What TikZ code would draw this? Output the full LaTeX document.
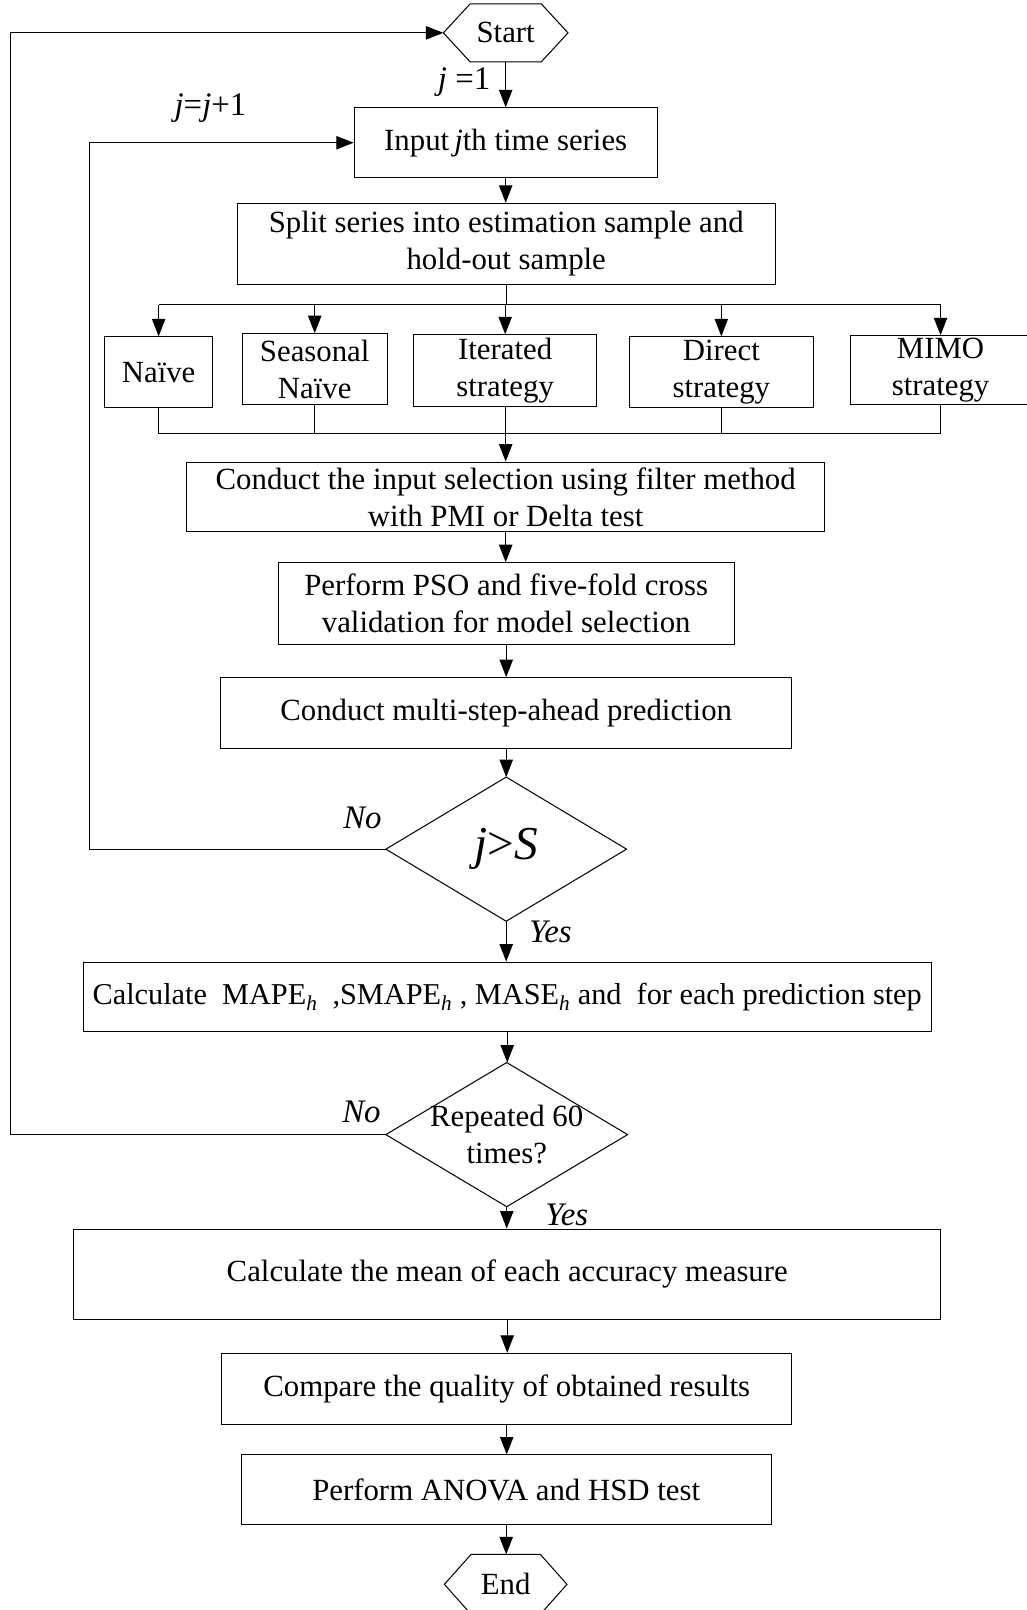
\documentclass[tikz,border=0pt]{standalone}
\usepackage{fontspec}
\setmainfont{Liberation Serif}
\usetikzlibrary{arrows.meta,calc}
\begin{document}
\begin{tikzpicture}[x=1pt,y=-1pt,
  every node/.style={font=\fontsize{30}{36}\selectfont},
  box/.style={draw, line width=1pt, align=center, inner sep=0pt},
  hex/.style={inner sep=0pt},
  arr/.style={-{Triangle[length=17pt,width=13pt]}, line width=1pt},
  ln/.style={line width=1pt},
  lbl/.style={font=\fontsize{32}{36}\selectfont\itshape},
  subh/.style={}
]
\useasboundingbox (0,0) rectangle (1000,1568);

% nodes
\node[hex, minimum width=121pt, minimum height=56pt] (start) at (492.5,32) {Start};
\draw[ln] (start.west) -- ([xshift=26pt]start.north west) -- ([xshift=-26pt]start.north east)
  -- (start.east) -- ([xshift=-26pt]start.south east) -- ([xshift=26pt]start.south west) -- cycle;

\node[box, minimum width=295pt, minimum height=68pt] (input) at (492.5,139) {Input\,\textit{j}th time series};
\node[box, minimum width=524pt, minimum height=79pt] (split) at (493,237.5) {Split series into estimation sample and\\hold-out sample};

\node[box, minimum width=105pt, minimum height=69pt] (naive) at (154.5,362.5) {Naïve};
\node[box, minimum width=141pt, minimum height=69pt] (seas) at (306.5,359.5) {Seasonal\\Naïve};
\node[box, minimum width=178pt, minimum height=70pt] (iter) at (492,361) {Iterated\\strategy};
\node[box, minimum width=179pt, minimum height=69pt] (direct) at (702.5,362.5) {Direct\\strategy};
\node[box, minimum width=176pt, minimum height=67pt] (mimo) at (916,360.5) {MIMO\\strategy};

\node[box, minimum width=621pt, minimum height=68pt] (select) at (492.5,484) {Conduct the input selection using filter method\\with PMI or Delta test};
\node[box, minimum width=444pt, minimum height=80pt] (pso) at (493,588) {Perform PSO and five-fold cross\\validation for model selection};
\node[box, minimum width=556pt, minimum height=69pt] (multi) at (493,694.5) {Conduct multi-step-ahead prediction};

\node[hex, minimum width=234pt, minimum height=140pt, font=\fontsize{46}{50}\selectfont] (d1) at (493,827) {\textit{j}>\textit{S}};
\draw[ln] (d1.west) -- (d1.north) -- (d1.east) -- (d1.south) -- cycle;

\node[box, minimum width=826pt, minimum height=68pt, font=\fontsize{29.5}{36}\selectfont] (calc) at (494,971) {Calculate~ MAPE\textsubscript{\itshape h}~~,SMAPE\textsubscript{\itshape h} , MASE\textsubscript{\itshape h} and~ for each prediction step};

\node[hex, minimum width=235pt, minimum height=140pt, align=center] (d2) at (493.5,1105) {Repeated 60\\times?};
\draw[ln] (d2.west) -- (d2.north) -- (d2.east) -- (d2.south) -- cycle;

\node[box, minimum width=844pt, minimum height=88pt] (mean) at (494,1241) {Calculate the mean of each accuracy measure};
\node[box, minimum width=555pt, minimum height=69pt] (comp) at (493.5,1352.5) {Compare the quality of obtained results};
\node[box, minimum width=516pt, minimum height=68pt] (anova) at (493,1451) {Perform ANOVA and HSD test};

\node[hex, minimum width=119pt, minimum height=58pt] (end) at (492.5,1543) {End};
\draw[ln] (end.west) -- ([xshift=26pt]end.north west) -- ([xshift=-26pt]end.north east)
  -- (end.east) -- ([xshift=-26pt]end.south east) -- ([xshift=26pt]end.south west) -- cycle;

% labels
\node[font=\fontsize{32}{36}\selectfont] (lj1) at (452,80) {\textit{j} =1};
\node[font=\fontsize{32}{36}\selectfont] (ljj) at (205,105) {\textit{j}=\textit{j}+1};
\node[lbl] (no1) at (353,797) {No};
\node[lbl] (yes1) at (536,908) {Yes};
\node[lbl] (no2) at (352,1083) {No};
\node[lbl] (yes2) at (552,1183) {Yes};

% main flow
\draw[arr] (start.south) -- (start.south |- input.north);
\draw[arr] (input.south) -- (input.south |- split.north);
\coordinate (bt) at (492.5,297);
\draw[ln] (split.south) -- (split.south |- bt);
\draw[ln] (naive.north |- bt) -- (mimo.north |- bt);
\foreach \n in {naive,seas,iter,direct,mimo}{
  \draw[arr] (\n.north |- bt) -- (\n.north);
}
\coordinate (mb) at (492.5,422);
\draw[ln] (naive.south) -- (naive.south |- mb) -- (mimo.south |- mb) -- (mimo.south);
\foreach \n in {seas,iter,direct}{
  \draw[ln] (\n.south) -- (\n.south |- mb);
}
\draw[arr] (mb) -- (mb |- select.north);
\draw[arr] (select.south) -- (select.south |- pso.north);
\draw[arr] (pso.south) -- (pso.south |- multi.north);
\draw[arr] (multi.south) -- (multi.south |- d1.north);
\draw[arr] (d1.south) -- (d1.south |- calc.north);
\draw[arr] (calc.south) -- (calc.south |- d2.north);
\draw[arr] (d2.south) -- (d2.south |- mean.north);
\draw[arr] (mean.south) -- (mean.south |- comp.north);
\draw[arr] (comp.south) -- (comp.south |- anova.north);
\draw[arr] (anova.south) -- (anova.south |- end.north);

% loops
\coordinate (c1) at (87,827);
\draw[arr] (d1.west) -- (c1) |- (input.west);
\coordinate (c2) at (10,1105);
\draw[arr] (d2.west) -- (c2) |- (start.west);
\end{tikzpicture}
\end{document}
